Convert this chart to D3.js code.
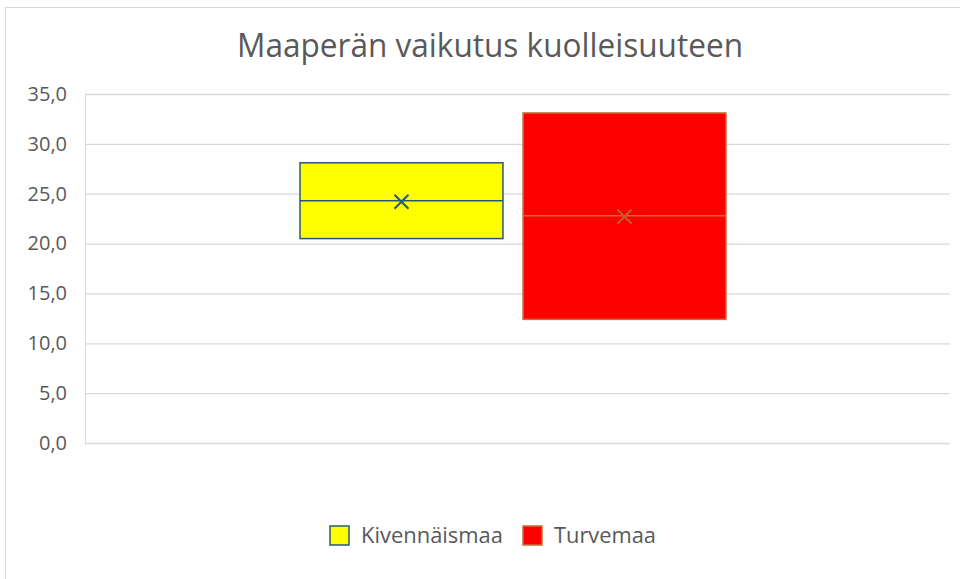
<!DOCTYPE html>
<html><head><meta charset="utf-8">
<script src="https://cdn.jsdelivr.net/npm/d3@7"></script>
<style>body{margin:0;background:#fff}svg{display:block}</style>
</head><body>
<svg id="c" width="960" height="579"></svg>
<script>
const title = "Maaperän vaikutus kuolleisuuteen";
const seriesNames = ["Kivennäismaa", "Turvemaa"];
const q1 = [20.5, 12.4];
const q3 = [28.1, 33.1];
const median = [24.3, 22.8];
const mean = [24.2, 22.7];
const yTicks = [0, 5, 10, 15, 20, 25, 30, 35];
const fills = ["#FFFF00", "#FF0000"];
const strokes = ["#25597A", "#C5703A"];
const markerColors = ["#25597A", "#B8632E"];

const svg = d3.select("#c");
const W = 960, H = 579;
svg.append("rect").attr("x", 5.5).attr("y", 7.5).attr("width", W).attr("height", H)
  .attr("fill", "#fff").attr("stroke", "#d9d9d9");

const pLeft = 85, pRight = 950, pTop = 94, pBottom = 443;
const y = d3.scaleLinear().domain([0, 35]).range([pBottom, pTop]);
const xOuter = d3.scaleBand().domain(["all"]).range([pLeft, pRight]);
const xInner = d3.scaleBand().domain(seriesNames)
  .range([xOuter("all") + 215, xOuter("all") + xOuter.bandwidth() - 224]).paddingInner(0.09);

// gridlines
const gAxis = svg.append("g").attr("transform", `translate(${pLeft},0)`)
  .call(d3.axisLeft(y).tickValues(yTicks).tickSize(-(pRight - pLeft)).tickPadding(18)
    .tickFormat(d => d3.format(".1f")(d).replace(".", ",")));
gAxis.select(".domain").attr("stroke", "#d9d9d9");
gAxis.selectAll(".tick line").attr("stroke", "#d9d9d9").attr("stroke-width", 1.3);
gAxis.selectAll(".tick text").attr("fill", "#595959").attr("font-size", 20)
  .attr("font-family", "'Open Sans', sans-serif");

// boxes
seriesNames.forEach((s, i) => {
  const x0 = xInner(s), bw = xInner.bandwidth();
  svg.append("rect").attr("x", x0).attr("y", y(q3[i])).attr("width", bw)
    .attr("height", y(q1[i]) - y(q3[i])).attr("fill", fills[i])
    .attr("stroke", strokes[i]).attr("stroke-width", 1.5);
  svg.append("line").attr("x1", x0).attr("x2", x0 + bw)
    .attr("y1", y(median[i])).attr("y2", y(median[i]))
    .attr("stroke", strokes[i]).attr("stroke-width", 1.5);
  const cx = x0 + bw / 2, cy = y(mean[i]), r = 7;
  svg.append("path").attr("d", `M${cx - r},${cy - r}L${cx + r},${cy + r}M${cx - r},${cy + r}L${cx + r},${cy - r}`)
    .attr("stroke", markerColors[i]).attr("stroke-width", 2).attr("fill", "none");
});

// title
svg.append("text").attr("x", 490).attr("y", 57).attr("text-anchor", "middle")
  .attr("font-family", "'Open Sans', sans-serif").attr("font-size", 32).attr("fill", "#595959")
  .attr("textLength", 506).attr("lengthAdjust", "spacingAndGlyphs").text(title);

// legend
const legX = [330, 523];
const legTextLen = [142, 102];
seriesNames.forEach((s, i) => {
  svg.append("rect").attr("x", legX[i]).attr("y", 526).attr("width", 19).attr("height", 19)
    .attr("fill", fills[i]).attr("stroke", strokes[i]).attr("stroke-width", 1.5);
  svg.append("text").attr("x", legX[i] + 31).attr("y", 543)
    .attr("font-family", "'Open Sans', sans-serif").attr("font-size", 21).attr("fill", "#595959")
    .attr("textLength", legTextLen[i]).attr("lengthAdjust", "spacingAndGlyphs").text(s);
});
</script>
</body></html>
